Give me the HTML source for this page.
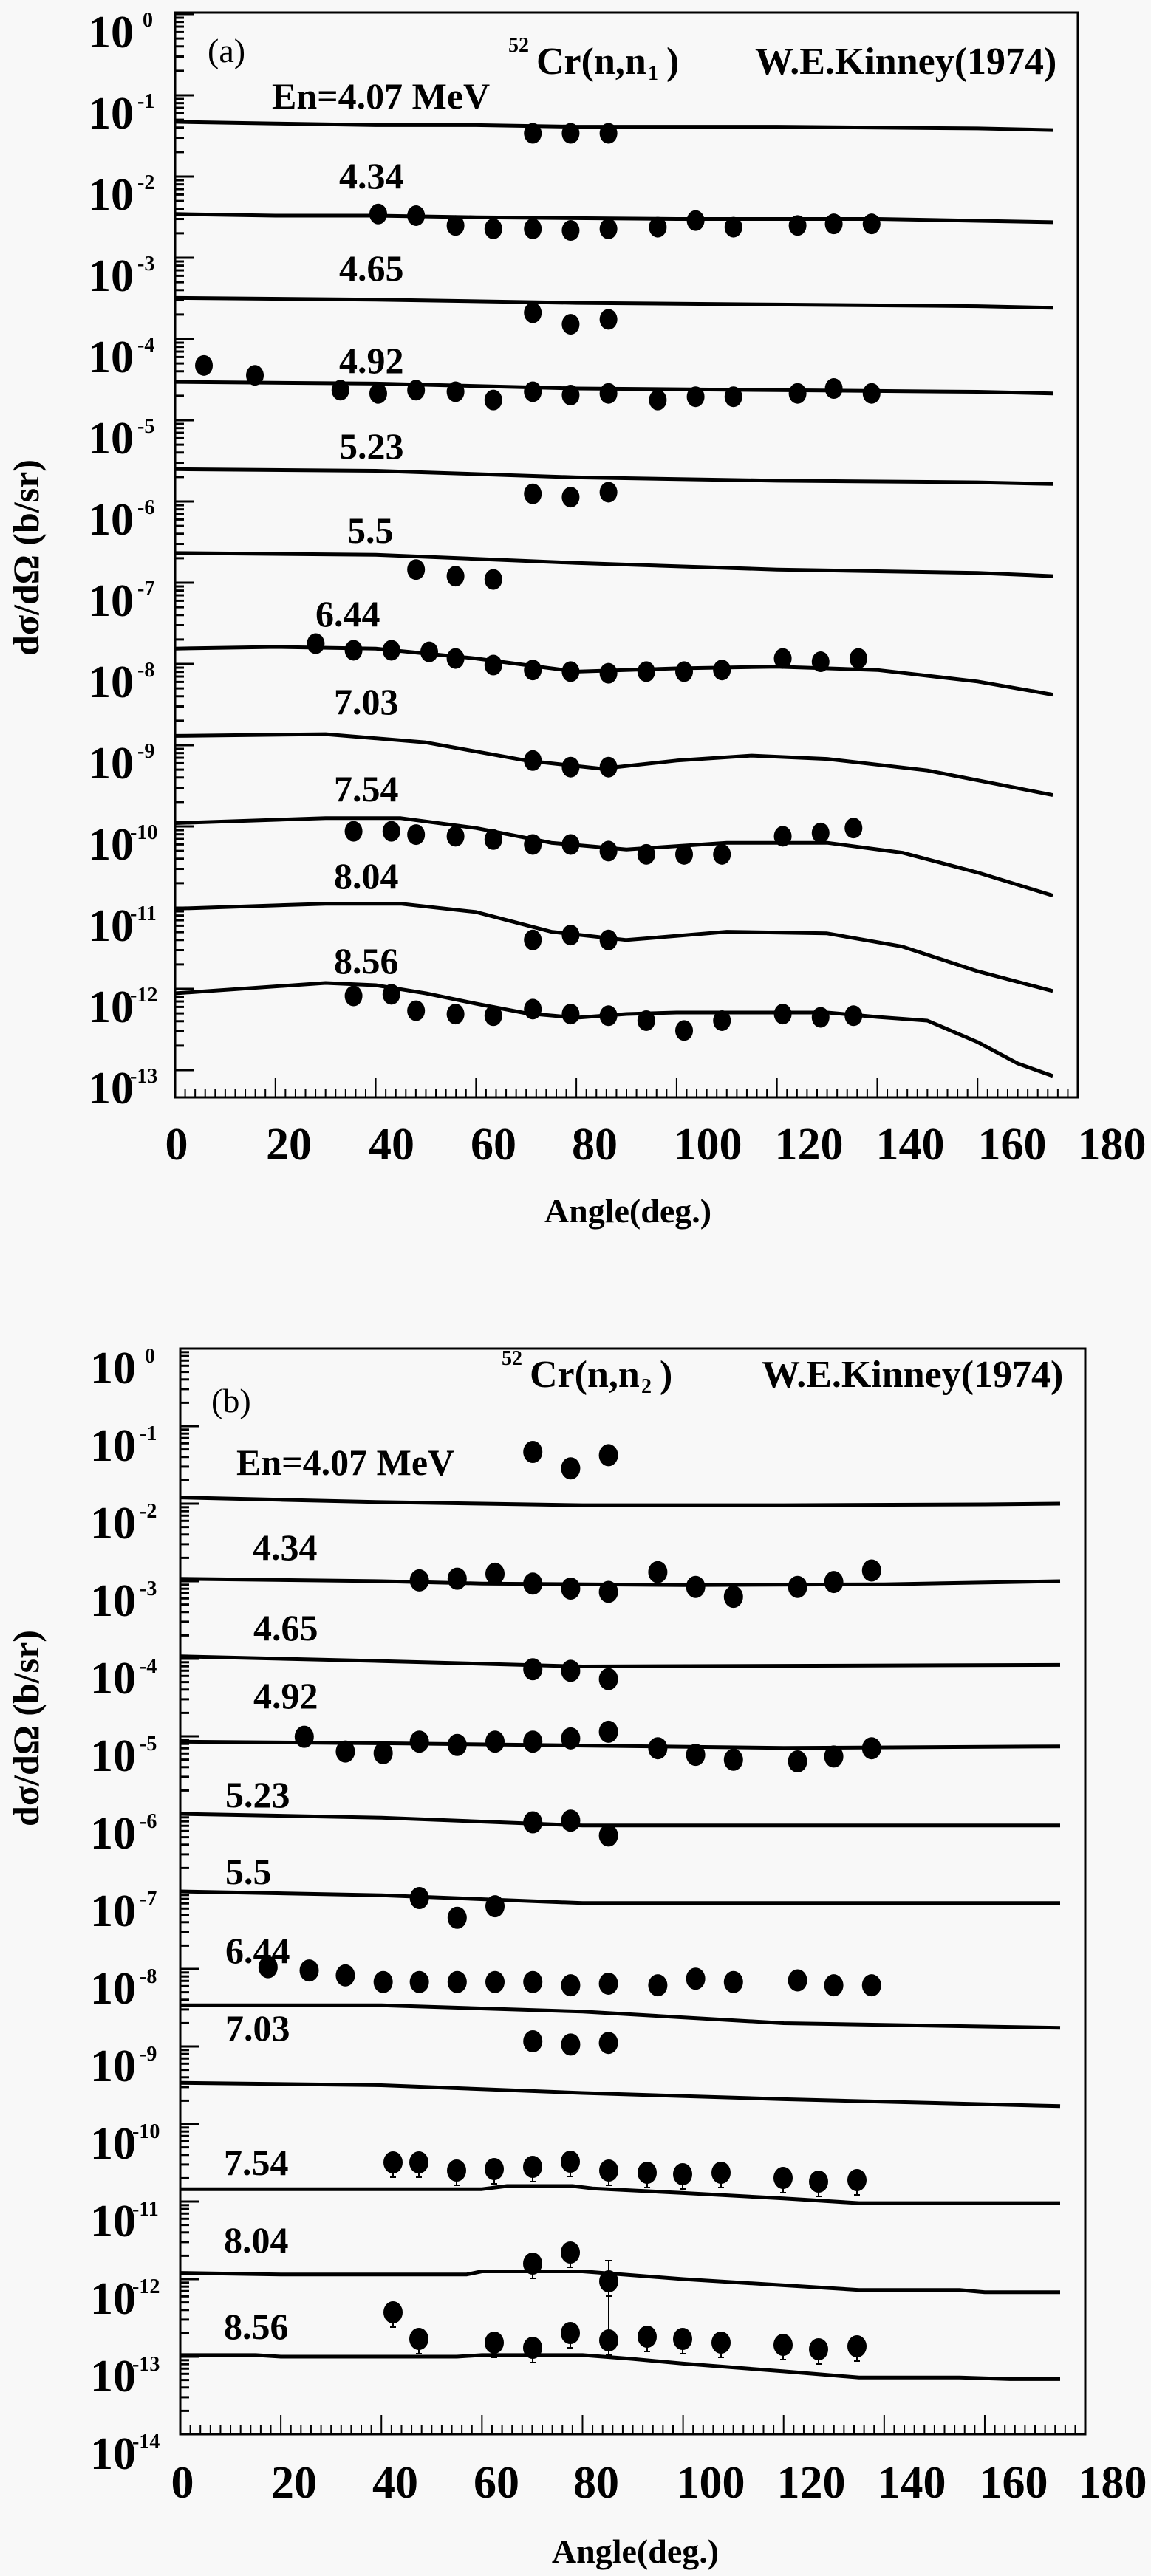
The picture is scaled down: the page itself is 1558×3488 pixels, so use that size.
<!DOCTYPE html>
<html><head><meta charset="utf-8"><style>
html,body{margin:0;padding:0;background:#f8f8f8;}
svg{display:block;}
text{font-family:"Liberation Serif",serif;font-weight:bold;fill:#000;}
</style></head><body>
<svg id="s" width="1558" height="3488" viewBox="0 0 1558 3488" xmlns="http://www.w3.org/2000/svg">
<rect width="1558" height="3488" fill="#f8f8f8"/>
<g id="g"></g>
<!-- Panel a text -->
<text x="281" y="84" font-size="46" font-weight="normal" style="font-weight:normal">(a)</text>
<text x="688" y="70" font-size="28">52</text>
<text x="726" y="100" font-size="52">Cr(n,n</text>
<text x="877" y="108" font-size="28">1</text>
<text x="902" y="100" font-size="52">)</text>
<text x="1022" y="100" font-size="52">W.E.Kinney(1974)</text>
<text x="368" y="147" font-size="50">En=4.07 MeV</text>
<text x="459" y="255" font-size="50">4.34</text>
<text x="459" y="380" font-size="50">4.65</text>
<text x="459" y="505" font-size="50">4.92</text>
<text x="459" y="621" font-size="50">5.23</text>
<text x="470" y="735" font-size="50">5.5</text>
<text x="427" y="848" font-size="50">6.44</text>
<text x="452" y="967" font-size="50">7.03</text>
<text x="452" y="1085" font-size="50">7.54</text>
<text x="452" y="1203" font-size="50">8.04</text>
<text x="452" y="1318" font-size="50">8.56</text>
<text x="850" y="1655" font-size="46" text-anchor="middle">Angle(deg.)</text>
<text transform="translate(52,755) rotate(-90)" font-size="50" text-anchor="middle">dσ/dΩ (b/sr)</text>
<!-- Panel b text -->
<text x="286" y="1912" font-size="46" style="font-weight:normal">(b)</text>
<text x="679" y="1848" font-size="28">52</text>
<text x="717" y="1878" font-size="52">Cr(n,n</text>
<text x="868" y="1886" font-size="28">2</text>
<text x="893" y="1878" font-size="52">)</text>
<text x="1031" y="1878" font-size="52">W.E.Kinney(1974)</text>
<text x="320" y="1997" font-size="50">En=4.07 MeV</text>
<text x="342" y="2112" font-size="50">4.34</text>
<text x="343" y="2221" font-size="50">4.65</text>
<text x="343" y="2313" font-size="50">4.92</text>
<text x="305" y="2447" font-size="50">5.23</text>
<text x="305" y="2551" font-size="50">5.5</text>
<text x="305" y="2658" font-size="50">6.44</text>
<text x="305" y="2763" font-size="50">7.03</text>
<text x="303" y="2945" font-size="50">7.54</text>
<text x="303" y="3050" font-size="50">8.04</text>
<text x="303" y="3167" font-size="50">8.56</text>
<text x="860" y="3470" font-size="46" text-anchor="middle">Angle(deg.)</text>
<text transform="translate(52,2340) rotate(-90)" font-size="50" text-anchor="middle">dσ/dΩ (b/sr)</text>
<!-- x tick labels -->
<g font-size="62" text-anchor="middle">
<text x="239" y="1570">0</text><text x="391" y="1570">20</text><text x="530" y="1570">40</text><text x="668" y="1570">60</text><text x="805" y="1570">80</text><text x="958" y="1570">100</text><text x="1095" y="1570">120</text><text x="1232" y="1570">140</text><text x="1370" y="1570">160</text><text x="1505" y="1570">180</text>
<text x="247" y="3382">0</text><text x="398" y="3382">20</text><text x="535" y="3382">40</text><text x="672" y="3382">60</text><text x="807" y="3382">80</text><text x="962" y="3382">100</text><text x="1098" y="3382">120</text><text x="1234" y="3382">140</text><text x="1372" y="3382">160</text><text x="1506" y="3382">180</text>
</g>
<!-- y tick labels a -->
<g font-size="62" text-anchor="end">
<text x="181" y="64">10</text><text x="181" y="174">10</text><text x="181" y="284">10</text><text x="181" y="394">10</text><text x="181" y="504">10</text><text x="181" y="614">10</text><text x="181" y="724">10</text><text x="181" y="834">10</text><text x="181" y="944">10</text><text x="181" y="1054">10</text><text x="181" y="1164">10</text><text x="181" y="1274">10</text><text x="181" y="1384">10</text><text x="181" y="1494">10</text>
</g>
<g font-size="28">
<text x="193" y="36">0</text><text x="186" y="146">-1</text><text x="186" y="256">-2</text><text x="186" y="366">-3</text><text x="186" y="476">-4</text><text x="186" y="586">-5</text><text x="186" y="696">-6</text><text x="186" y="806">-7</text><text x="186" y="916">-8</text><text x="186" y="1026">-9</text><text x="176" y="1136">-10</text><text x="176" y="1246">-11</text><text x="176" y="1356">-12</text><text x="176" y="1466">-13</text>
</g>
<!-- y tick labels b -->
<g font-size="62" text-anchor="end">
<text x="184" y="1873">10</text><text x="184" y="1978">10</text><text x="184" y="2083">10</text><text x="184" y="2188">10</text><text x="184" y="2293">10</text><text x="184" y="2398">10</text><text x="184" y="2503">10</text><text x="184" y="2608">10</text><text x="184" y="2713">10</text><text x="184" y="2818">10</text><text x="184" y="2923">10</text><text x="184" y="3028">10</text><text x="184" y="3133">10</text><text x="184" y="3238">10</text><text x="184" y="3343">10</text>
</g>
<g font-size="28">
<text x="196" y="1845">0</text><text x="189" y="1950">-1</text><text x="189" y="2055">-2</text><text x="189" y="2160">-3</text><text x="189" y="2265">-4</text><text x="189" y="2370">-5</text><text x="189" y="2475">-6</text><text x="189" y="2580">-7</text><text x="189" y="2685">-8</text><text x="189" y="2790">-9</text><text x="179" y="2895">-10</text><text x="179" y="3000">-11</text><text x="179" y="3105">-12</text><text x="179" y="3210">-13</text><text x="179" y="3315">-14</text>
</g>
</svg>
<script>
var NS="http://www.w3.org/2000/svg",G=document.getElementById("g");
function el(t,a){var e=document.createElementNS(NS,t);for(var k in a)e.setAttribute(k,a[k]);G.appendChild(e);return e;}
function frame(L,T,R,B,y0,dec,ndec,ox,sx){
  el("rect",{x:L,y:T,width:R-L,height:B-T,fill:"none",stroke:"#000","stroke-width":3});
  for(var d=0;d<=ndec;d++){for(var m=1;m<10;m++){var y=y0+d*dec-Math.log10(m)*dec;if(y<T||y>B)continue;
    el("line",{x1:L,y1:y,x2:L+(m==1?25:12),y2:y,stroke:"#000","stroke-width":3});}}
  for(var a=0;a<=180;a+=2){var x=ox+a*sx;if(x>R)break;var len=a%20==0?26:12;
    el("line",{x1:x,y1:B,x2:x,y2:B-len,stroke:"#000","stroke-width":2});}
}
function line(pts){el("polyline",{points:pts.map(function(p){return p[0].toFixed(1)+","+p[1].toFixed(1)}).join(" "),fill:"none",stroke:"#000","stroke-width":5,"stroke-linejoin":"round"});}
function dot(x,y,r){el("ellipse",{cx:x,cy:y,rx:r-1,ry:r+1,fill:"#000"});}
// Panel a
frame(237,17,1459,1486,19,110,13,237,6.789);
var XA=function(d){return 237+d*6.789;},SY=2.229,SX=2.226;
var ca=[
[[0,74],[20,75],[40,76],[60,76],[80,77],[120,77],[160,78],[175,79]],
[[0,130],[20,131],[40,131],[60,132],[100,133],[140,133],[175,135]],
[[0,181],[40,182],[80,184],[120,185],[160,186],[175,187]],
[[0,232],[40,233],[80,236],[120,237],[160,238],[175,239]],
[[0,285],[40,286],[80,290],[120,292],[160,293],[175,294]],
[[0,336],[40,337],[80,342],[120,346],[160,348],[175,350]],
[[0,394],[20,393],[40,394],[60,400],[80,408],[100,406],[120,405],[140,407],[160,414],[175,422]],
[[0,447],[30,446],[50,451],[70,462],[85,467],[100,462],[115,459],[130,461],[150,468],[165,477],[175,483]],
[[0,500],[30,497],[45,497],[60,503],[75,512],[90,516],[110,512],[130,512],[145,518],[160,530],[175,544]],
[[0,552],[30,549],[45,549],[60,554],[75,566],[90,571],[110,566],[130,567],[145,575],[160,590],[175,602]]];
ca.forEach(function(c){line(c.map(function(p){return [XA(p[0]),p[1]*SY];}));});
line([[0,1345],[30,1331],[40,1334],[50,1345],[60,1359],[70,1372],[80,1378],[90,1373],[100,1371],[130,1371],[140,1377],[150,1382],[160,1411],[168,1440],[175,1457]].map(function(p){return [XA(p[0]),p[1]];}));
var pa=[[324,81],[347,81],[370,81],
[230,130],[253,131],[277,137],[300,139],[324,139],[347,140],[370,139],[400,138],[423,134],[446,138],[485,137],[507,136],[530,136],
[324,190],[347,197],[370,194],
[124,222],[155,228],[207,237],[230,239],[253,237],[277,238],[300,243],[324,238],[347,240],[370,239],[400,243],[423,241],[446,241],[485,239],[507,236],[530,239],
[324,300],[347,302],[370,299],[253,346],[277,350],[300,352],
[192,391],[215,395],[238,395],[261,396],[277,400],[300,404],[324,407],[347,408],[370,409],[393,408],[416,408],[439,407],[476,400],[499,402],[522,400],
[324,462],[347,466],[370,466],
[215,505],[238,505],[253,507],[277,508],[300,510],[324,513],[347,513],[370,517],[393,519],[416,519],[439,519],[476,508],[499,506],[519,503],
[324,571],[347,568],[370,571],
[215,605],[238,604],[253,614],[277,616],[300,617],[324,613],[347,616],[370,617],[393,620],[416,626],[439,620],[476,616],[499,618],[519,617]];
pa.forEach(function(p){dot(p[0]*SX,p[1]*SY,13);});
// Panel b
frame(244,1826,1469,3296,1826,105,14,244,6.806);
var XB=function(d){return 244+d*6.806;},YB=function(e){return 1826+e*105;};
var cb=[
[[0,1.92],[20,1.95],[40,1.98],[60,2.0],[80,2.02],[120,2.02],[160,2.01],[175,2.0]],
[[0,2.97],[40,3.0],[60,3.03],[100,3.05],[140,3.04],[175,3.0]],
[[0,3.97],[40,4.03],[80,4.1],[175,4.08]],
[[0,5.07],[40,5.09],[80,5.12],[120,5.15],[175,5.13]],
[[0,6.0],[40,6.05],[80,6.15],[175,6.15]],
[[0,7.0],[40,7.05],[80,7.15],[175,7.15]],
[[0,8.47],[40,8.47],[80,8.55],[120,8.7],[175,8.76]],
[[0,9.47],[40,9.5],[80,9.6],[120,9.68],[175,9.77]],
[[0,10.84],[60,10.84],[65,10.8],[78,10.8],[82,10.83],[100,10.89],[120,10.96],[135,11.02],[175,11.02]],
[[0,11.92],[20,11.94],[57,11.94],[60,11.9],[80,11.9],[100,12.0],[120,12.08],[135,12.14],[155,12.14],[160,12.17],[175,12.17]],
[[0,12.98],[15,12.98],[20,13.0],[55,13.0],[60,12.98],[80,12.98],[90,13.03],[100,13.09],[120,13.19],[135,13.27],[155,13.27],[165,13.29],[175,13.29]]];
cb.forEach(function(c){line(c.map(function(p){return [XB(p[0]),YB(p[1])];}));});
var pb=[[324,882],[347,892],[370,884],
[255,960],[278,959],[301,956],[324,962],[347,965],[370,967],[400,955],[423,964],[446,970],[485,964],[507,961],[530,954],
[324,1014],[347,1015],[370,1020],
[185,1055],[210,1064],[233,1065],[255,1058],[278,1060],[301,1058],[324,1058],[347,1056],[370,1052],[400,1062],[423,1066],[446,1069],[485,1070],[507,1067],[530,1062],
[324,1107],[347,1106],[370,1115],
[255,1153],[278,1165],[301,1158],
[163,1195],[188,1197],[210,1200],[233,1204],[255,1204],[278,1204],[301,1204],[324,1204],[347,1206],[370,1205],[400,1206],[423,1202],[446,1204],[485,1203],[507,1206],[530,1206],
[324,1240],[347,1242],[370,1241]];
pb.forEach(function(p){dot(p[0]*SX,p[1]*SY,14);});
var pf=[[532,2928],[567,2928],[618,2939],[669,2937],[721,2934],[772,2927],[824,2939],[876,2942],[924,2944],[976,2942],[1060,2949],[1108,2954],[1160,2952],
[721,3065],[772,3050],[824,3089],
[532,3131],[567,3167],[669,3172],[721,3179],[772,3159],[824,3169],[876,3164],[924,3167],[976,3172],[1060,3175],[1108,3181],[1160,3177]];
pf.forEach(function(p){dot(p[0],p[1],14);
  el("line",{x1:p[0],y1:p[1],x2:p[0],y2:p[1]+20,stroke:"#000","stroke-width":2});
  el("line",{x1:p[0]-4,y1:p[1]+20,x2:p[0]+4,y2:p[1]+20,stroke:"#000","stroke-width":2});});
el("line",{x1:824,y1:3061,x2:824,y2:3189,stroke:"#000","stroke-width":2});
el("line",{x1:819,y1:3061,x2:829,y2:3061,stroke:"#000","stroke-width":2});
</script>
</body></html>
